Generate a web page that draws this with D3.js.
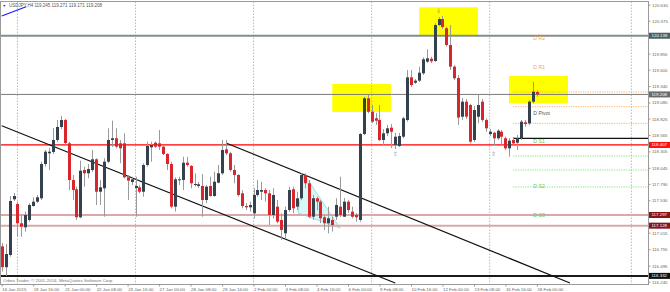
<!DOCTYPE html>
<html>
<head>
<meta charset="utf-8">
<script src="https://cdn.jsdelivr.net/npm/d3@7"></script>
<style>
  body { margin: 0; background: #fff; }
  svg { display: block; }
  text { font-family: "Liberation Sans", Arial, sans-serif; }
</style>
</head>
<body>
<div id="chart"></div>
<script>
// USDJPY H4 candles, bar 0 = 16 Jan 2015 08:00, bar 136 = 18 Feb 00:00
const opens = [
  116.800, 116.470, 116.663, 117.546, 117.471, 117.166, 117.102, 117.218, 117.440, 117.508,
  117.562, 118.105, 118.275, 118.296, 118.486, 118.692, 118.803, 118.433, 117.852, 117.705,
  117.261, 118.010, 117.958, 118.010, 118.180, 117.666, 117.720, 118.142, 118.486, 118.513,
  118.433, 118.433, 117.895, 117.820, 117.725, 117.736, 117.666, 118.090, 118.370, 118.443,
  118.433, 118.380, 118.264, 118.105, 117.429, 117.852, 117.852, 118.126, 118.074, 117.773,
  117.757, 117.757, 117.535, 117.757, 117.598, 117.809, 117.958, 118.338, 118.275, 118.010,
  117.931, 117.641, 117.440, 117.419, 117.324, 117.614, 117.666, 117.693, 117.641, 117.297,
  117.429, 117.218, 117.007, 117.376, 117.705, 117.429, 117.562, 117.931, 117.800, 117.270,
  117.562, 117.508, 117.261, 117.166, 117.218, 117.270, 117.429, 117.270, 117.508, 117.350,
  117.297, 117.218, 118.581, 119.147, 118.934, 118.830, 118.803, 118.486, 118.592, 118.681,
  118.407, 118.391, 118.538, 118.803, 119.479, 119.394, 119.426, 119.543, 119.727, 119.774,
  119.738, 120.308, 120.403, 120.256, 119.991, 119.648, 119.468, 118.855, 119.093, 119.041,
  118.486, 118.855, 119.093, 118.803, 118.581, 118.601, 118.513, 118.617, 118.513, 118.354,
  118.486, 118.443, 118.513, 118.766, 118.750, 119.093, 119.245
];
const highs = [
  116.850, 116.838, 117.598, 117.646, 117.508, 117.297, 117.350, 117.483, 117.578, 117.614,
  118.142, 118.327, 118.359, 118.676, 118.803, 118.866, 118.819, 118.459, 117.931, 117.746,
  118.158, 118.063, 118.105, 118.327, 118.196, 117.852, 118.196, 118.671, 118.792, 118.671,
  118.486, 118.592, 117.931, 117.904, 117.904, 117.773, 118.116, 118.459, 118.459, 118.459,
  118.644, 118.406, 118.275, 118.142, 117.895, 117.904, 118.221, 118.221, 118.090, 117.958,
  117.820, 117.947, 117.773, 117.904, 117.983, 118.090, 118.486, 118.486, 118.300, 118.090,
  117.947, 117.693, 117.487, 117.508, 117.720, 117.852, 117.825, 117.720, 117.693, 117.720,
  117.535, 117.324, 117.429, 117.746, 117.746, 117.666, 117.958, 117.958, 117.852, 117.614,
  117.587, 117.535, 117.297, 117.429, 117.270, 117.562, 117.904, 117.567, 117.535, 117.429,
  117.329, 118.597, 119.172, 119.199, 119.041, 118.914, 119.041, 118.660, 118.724, 118.739,
  118.597, 118.597, 118.855, 119.595, 119.595, 119.452, 119.647, 119.796, 119.923, 119.806,
  120.335, 120.435, 120.450, 120.282, 120.308, 119.674, 119.516, 119.151, 119.136, 119.060,
  119.025, 119.199, 119.136, 118.830, 118.660, 118.617, 118.655, 118.644, 118.538, 118.513,
  118.533, 118.565, 118.803, 118.803, 119.120, 119.410, 119.271
];
const lows = [
  116.400, 116.332, 116.636, 117.519, 116.953, 116.953, 117.033, 117.191, 117.429, 117.487,
  117.535, 118.063, 118.010, 118.264, 118.454, 118.660, 118.407, 117.693, 117.535, 117.218,
  117.245, 117.746, 117.879, 117.979, 117.456, 117.456, 117.270, 118.116, 118.375, 118.354,
  118.116, 117.879, 117.535, 117.773, 117.270, 117.641, 117.587, 118.063, 118.142, 118.359,
  118.327, 118.248, 118.010, 117.403, 117.350, 117.773, 117.693, 118.063, 117.720, 117.746,
  117.725, 117.270, 117.483, 117.587, 117.587, 117.800, 117.931, 118.248, 117.983, 117.800,
  117.587, 117.403, 117.376, 117.350, 117.245, 117.587, 117.535, 117.508, 117.139, 117.245,
  117.166, 116.901, 116.928, 117.350, 117.324, 117.376, 117.535, 117.720, 117.245, 117.218,
  117.376, 117.166, 117.060, 117.007, 117.033, 117.218, 117.265, 117.265, 117.329, 117.245,
  117.191, 117.191, 118.565, 118.909, 118.750, 118.724, 118.470, 118.407, 118.549, 118.359,
  118.343, 118.375, 118.513, 118.776, 119.330, 119.373, 119.405, 119.516, 119.706, 119.706,
  119.722, 120.292, 120.245, 119.964, 119.595, 119.437, 118.723, 118.803, 118.819, 118.433,
  118.454, 118.750, 118.771, 118.617, 118.549, 118.407, 118.486, 118.407, 118.327, 118.221,
  118.391, 118.327, 118.486, 118.696, 118.723, 119.067, 119.171
];
const closes = [
  116.470, 116.679, 117.519, 117.598, 117.166, 117.112, 117.297, 117.456, 117.508, 117.578,
  118.105, 118.300, 118.300, 118.486, 118.692, 118.803, 118.438, 117.852, 117.693, 117.261,
  117.999, 117.958, 118.026, 118.180, 117.666, 117.736, 118.142, 118.486, 118.513, 118.380,
  118.354, 117.895, 117.841, 117.863, 117.757, 117.666, 118.090, 118.391, 118.406, 118.380,
  118.380, 118.264, 118.105, 117.429, 117.863, 117.863, 118.126, 118.090, 117.800, 117.788,
  117.783, 117.535, 117.746, 117.598, 117.825, 117.958, 118.327, 118.275, 118.010, 117.931,
  117.614, 117.440, 117.419, 117.456, 117.614, 117.693, 117.693, 117.641, 117.297, 117.614,
  117.191, 117.060, 117.376, 117.693, 117.403, 117.562, 117.931, 117.800, 117.270, 117.562,
  117.508, 117.245, 117.166, 117.245, 117.139, 117.456, 117.297, 117.508, 117.376, 117.270,
  117.261, 118.581, 119.147, 118.934, 118.776, 118.792, 118.486, 118.592, 118.671, 118.617,
  118.538, 118.549, 118.830, 119.479, 119.357, 119.426, 119.552, 119.765, 119.780, 119.733,
  120.308, 120.403, 120.276, 119.991, 119.648, 119.464, 118.842, 119.093, 118.855, 118.459,
  118.961, 119.040, 118.803, 118.671, 118.617, 118.513, 118.633, 118.538, 118.354, 118.474,
  118.433, 118.513, 118.776, 118.739, 119.093, 119.251, 119.208
];

const timeLabels = [
  "16 Jan 2015", "19 Jan 16:00", "21 Jan 00:00", "22 Jan 08:00", "23 Jan 16:00", "27 Jan 00:00",
  "28 Jan 08:00", "29 Jan 16:00", "2 Feb 00:00", "3 Feb 08:00", "4 Feb 16:00", "6 Feb 00:00",
  "9 Feb 08:00", "10 Feb 16:00", "12 Feb 00:00", "13 Feb 08:00", "16 Feb 16:00", "18 Feb 00:00"
];
const labelBars = timeLabels.map((d, i) => i * 8);
const gridBars = [4, 34, 64, 94, 124, 160];

const priceTicks = [
  120.630, 120.375, 120.115, 119.855, 119.600, 119.340, 119.080, 118.825, 118.565,
  118.305, 118.045, 117.790, 117.530, 117.270, 117.015, 116.755, 116.495, 116.240
];

// horizontal levels with price tags on the axis
const levelPrices = [120.138, 119.208, 118.407, 117.297, 117.128, 116.332];

// daily pivot block (starts at the 17 Feb open, bar 130)
const pivotStartBar = 130;
const pivotNames = ["D R2", "D R1", "D Pivot", "D S1", "D S2", "D S3"];
const pivotLabelPrices = [120.087, 119.627, 118.898, 118.454, 117.741, 117.281];
const upperDotted = [119.247, 119.013, 118.750];
const lowerDotted = [118.232, 118.010, 117.741];
const dayOpenLevel = 118.513;

// drawn objects: [bar, price] anchors
const channelLow = [[0, 118.712], [100, 116.220]];
const channelHigh = [[57, 118.438], [144.4, 116.220]];
const blueLine = [[0, 120.451], [6.2, 120.598]];
const triangle = [[76.8, 117.947], [75.3, 117.329], [86.0, 117.091]];
// [fromBar, toBar, topPrice, bottomPrice]
const boxes = [
  [84, 98.9, 119.373, 118.930],
  [106.1, 121, 120.589, 120.150],
  [128.9, 143.9, 119.500, 119.067]
];
// [bar, price, symbol]
const arrows = [[100, 118.264, "\u21E7"], [125, 118.264, "\u21E7"], [111, 120.520, "\u21E9"]];

const width = 670, height = 292;
const plot = { left: 0.5, right: 648.5, top: 1.5, bottom: 284.5 };

const x = d3.scaleLinear().domain([0, 136]).range([1.7, 536.9]);
const y = d3.scaleLinear().domain([116.240, 120.630]).range([281.7, 4.7]);

const svg = d3.select('#chart').append('svg')
  .attr('width', width).attr('height', height);

svg.append('defs').append('clipPath').attr('id', 'plotClip')
  .append('rect')
  .attr('x', plot.left).attr('y', plot.top)
  .attr('width', plot.right - plot.left).attr('height', plot.bottom - plot.top);

const g = svg.append('g').attr('clip-path', 'url(#plotClip)');

// yellow zones
g.selectAll('rect.box').data(boxes).enter().append('rect')
  .attr('class', 'box')
  .attr('x', d => x(d[0]))
  .attr('y', d => y(d[2]))
  .attr('width', d => x(d[1]) - x(d[0]))
  .attr('height', d => y(d[3]) - y(d[2]))
  .attr('fill', '#ffff00');

// triangle
g.append('path')
  .attr('d', d3.line().x(d => x(d[0])).y(d => y(d[1])).curve(d3.curveLinearClosed)(triangle))
  .attr('fill', '#d6f7f5')
  .attr('stroke', '#8fd6d6')
  .attr('stroke-width', 0.8);

// vertical dotted grid
g.selectAll('line.grid').data(gridBars).enter().append('line')
  .attr('x1', d => x(d)).attr('x2', d => x(d))
  .attr('y1', plot.top).attr('y2', plot.bottom)
  .attr('stroke', '#a8a8a8').attr('stroke-width', 0.8)
  .attr('stroke-dasharray', '1.5,1.5');

// full-width levels
const levelStyles = [
  { color: '#7f908b', w: 2, tag: '#4d605b' },
  { color: '#7a7a7a', w: 1, tag: '#6b6b6b' },
  { color: '#ff0000', w: 1.2, tag: '#ff1010' },
  { color: '#d9a9a9', w: 2, tag: '#8b1414' },
  { color: '#d9a9a9', w: 2, tag: '#8b1414' },
  { color: '#1a1a1a', w: 2, tag: '#111111' }
];
g.selectAll('line.level').data(levelPrices).enter().append('line')
  .attr('x1', plot.left).attr('x2', plot.right)
  .attr('y1', d => y(d)).attr('y2', d => y(d))
  .attr('stroke', (d, i) => levelStyles[i].color)
  .attr('stroke-width', (d, i) => levelStyles[i].w);

// pivot block lines
const pivotX = x(pivotStartBar);
g.selectAll('line.updot').data(upperDotted).enter().append('line')
  .attr('x1', pivotX).attr('x2', plot.right)
  .attr('y1', d => y(d)).attr('y2', d => y(d))
  .attr('stroke', '#ffa64d').attr('stroke-width', 0.9)
  .attr('stroke-dasharray', '1.2,1.2');
g.selectAll('line.lodot').data(lowerDotted).enter().append('line')
  .attr('x1', pivotX).attr('x2', plot.right)
  .attr('y1', d => y(d)).attr('y2', d => y(d))
  .attr('stroke', '#7ddc7d').attr('stroke-width', 0.9)
  .attr('stroke-dasharray', '1.2,1.2');
g.append('line')
  .attr('x1', pivotX).attr('x2', plot.right)
  .attr('y1', y(dayOpenLevel)).attr('y2', y(dayOpenLevel))
  .attr('stroke', '#111').attr('stroke-width', 1.2);

// trend lines
const seg = d3.line().x(d => x(d[0])).y(d => y(d[1]));
[channelLow, channelHigh].forEach(l => {
  g.append('path').attr('d', seg(l))
    .attr('fill', 'none').attr('stroke', '#111').attr('stroke-width', 1.2);
});
g.append('path').attr('d', seg(blueLine))
  .attr('fill', 'none').attr('stroke', '#1a1aff').attr('stroke-width', 1.2);

// candles
const bars = d3.range(opens.length);
const cx = i => Math.round(x(i));
g.selectAll('line.wick').data(bars).enter().append('line')
  .attr('x1', i => cx(i) + 0.5).attr('x2', i => cx(i) + 0.5)
  .attr('y1', i => y(highs[i])).attr('y2', i => y(lows[i]))
  .attr('stroke', '#9a9a9a').attr('stroke-width', 1);
g.selectAll('rect.body').data(bars).enter().append('rect')
  .attr('x', i => cx(i) - 1)
  .attr('y', i => y(Math.max(opens[i], closes[i])))
  .attr('width', 3)
  .attr('height', i => Math.max(1, Math.abs(y(opens[i]) - y(closes[i]))))
  .attr('fill', i => closes[i] >= opens[i] ? '#35414d' : '#d8262c');

// arrows
g.selectAll('text.arrow').data(arrows).enter().append('text')
  .attr('x', d => x(d[0])).attr('y', d => y(d[1]))
  .attr('text-anchor', 'middle').attr('dominant-baseline', 'middle')
  .attr('font-size', 6).attr('fill', '#888')
  .style('font-family', 'DejaVu Sans')
  .text(d => d[2]);

// pivot labels
const pivotColors = ['#f5a550', '#f5a550', '#555555', '#5ccc5c', '#5ccc5c', '#5ccc5c'];
g.selectAll('text.piv').data(pivotNames).enter().append('text')
  .attr('x', pivotX + 20).attr('y', (d, i) => y(pivotLabelPrices[i]))
  .attr('dominant-baseline', 'middle')
  .attr('font-size', 5.2)
  .attr('fill', (d, i) => pivotColors[i])
  .text(d => d);

// header and footer
svg.append('text').attr('x', 2.5).attr('y', 7)
  .attr('font-size', 3.5).attr('fill', '#333').text('\u25BC');
svg.append('text').attr('x', 9).attr('y', 7)
  .attr('font-size', 4.5).attr('fill', '#555')
  .text('USDJPY,H4  119.245 119.271 119.171 119.208');
svg.append('text').attr('x', 3).attr('y', 282)
  .attr('font-size', 4.4).attr('fill', '#777')
  .text('Orbex Trader, \u00A9 2001-2014, MetaQuotes Software Corp.');

// frame
svg.append('rect')
  .attr('x', plot.left).attr('y', plot.top)
  .attr('width', plot.right - plot.left).attr('height', plot.bottom - plot.top)
  .attr('fill', 'none').attr('stroke', '#9a9a9a').attr('stroke-width', 1);

// right price axis
const tagY = levelPrices.map(p => y(p));
const shownTicks = priceTicks.filter(p => tagY.every(t => Math.abs(y(p) - t) > 4.5));
const yAxis = svg.append('g')
  .attr('transform', `translate(${plot.right},0)`)
  .call(d3.axisRight(y).tickValues(shownTicks).tickSize(2).tickPadding(1.5)
    .tickFormat(d3.format('.3f')));
yAxis.select('.domain').remove();
yAxis.selectAll('line').attr('stroke', '#999');
yAxis.selectAll('text').attr('font-size', 4.4).attr('fill', '#666')
  .style('font-family', '"Liberation Sans", Arial, sans-serif');

// price tags
const tags = svg.selectAll('g.tag').data(levelPrices).enter().append('g')
  .attr('transform', d => `translate(${plot.right + 0.5},${y(d)})`);
tags.append('rect')
  .attr('x', 0).attr('y', -3).attr('width', 22).attr('height', 6)
  .attr('fill', (d, i) => levelStyles[i].tag);
tags.append('text')
  .attr('x', 2.5).attr('y', 0).attr('dominant-baseline', 'middle')
  .attr('font-size', 4.4).attr('fill', '#fff')
  .text(d => d3.format('.3f')(d));

// bottom time axis
const xAxis = svg.append('g')
  .attr('transform', `translate(0,${plot.bottom})`)
  .call(d3.axisBottom(x).tickValues(labelBars).tickSize(2).tickPadding(1)
    .tickFormat((d, i) => timeLabels[i]));
xAxis.select('.domain').remove();
xAxis.selectAll('line').attr('stroke', '#999');
xAxis.selectAll('text').attr('font-size', 4.4).attr('fill', '#666')
  .attr('text-anchor', 'start')
  .style('font-family', '"Liberation Sans", Arial, sans-serif');
</script>
</body>
</html>
